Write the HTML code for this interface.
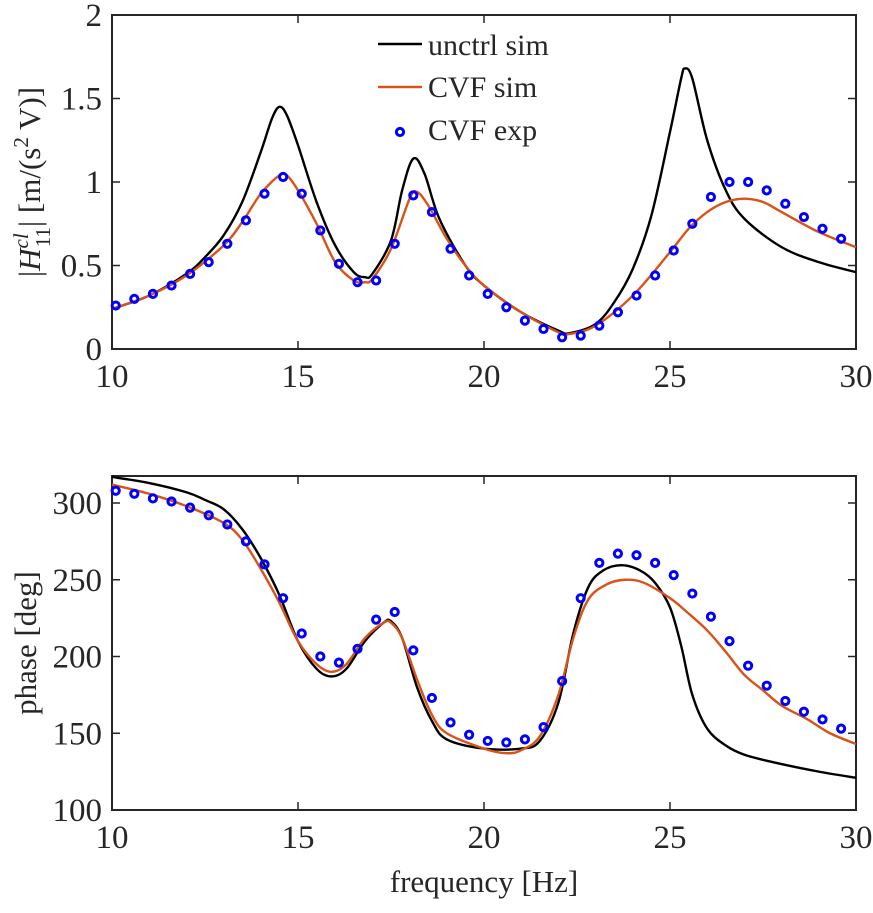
<!DOCTYPE html>
<html><head><meta charset="utf-8"><style>
body{margin:0;background:#fff;}
svg text{font-family:"Liberation Serif",serif;fill:#262626;}
</style></head><body>
<svg id="chart" width="873" height="908" viewBox="0 0 873 908" xmlns="http://www.w3.org/2000/svg"></svg>
<script>
const magUnctrlF=[10,11,12,12.5,13,13.5,14,14.3,14.5,14.7,15,15.5,16,16.5,16.8,17,17.5,17.8,18.1,18.4,18.8,19.5,20,21,22,22.3,23,23.5,24,24.5,25,25.3,25.4,25.6,26,26.5,27,28,29,30];
const magUnctrl=[0.24,0.32,0.45,0.55,0.68,0.88,1.18,1.38,1.45,1.40,1.22,0.88,0.62,0.46,0.43,0.45,0.65,0.95,1.14,1.05,0.78,0.50,0.38,0.22,0.11,0.095,0.15,0.28,0.48,0.80,1.30,1.62,1.68,1.62,1.25,0.95,0.78,0.61,0.52,0.46];
const magCvfF=[10,11,12,13,13.5,14,14.5,14.7,15,15.5,16,16.5,16.8,17,17.5,18,18.2,18.5,19,19.5,20,21,22,22.3,23,24,25,25.5,26,26.5,27,27.5,28,29,30];
const magCvf=[0.24,0.32,0.44,0.62,0.76,0.93,1.04,1.04,0.95,0.75,0.52,0.41,0.40,0.42,0.60,0.90,0.94,0.86,0.66,0.50,0.38,0.22,0.10,0.09,0.14,0.32,0.58,0.72,0.82,0.88,0.90,0.88,0.82,0.70,0.61];
const phUnctrlF=[10,11,12,12.5,13,13.5,14,14.5,15,15.5,15.9,16.3,16.8,17.3,17.5,17.8,18.2,18.6,19,20,21,21.5,22,22.4,22.8,23.2,23.7,24.2,24.6,25,25.3,25.6,26,26.5,27,27.8,29,30];
const phUnctrl=[317,313,307,302,296,283,264,240,210,192,187,192,210,222,223,212,180,158,146,140,140,145,170,215,245,256,259.5,256,248,232,207,175,153,142,136,131,125,121];
const phCvfF=[10,11,12,13,13.5,14,14.5,15,15.5,15.9,16.3,16.8,17.3,17.5,17.8,18.2,18.6,19,20,20.6,21,21.5,22,22.4,22.8,23.3,23.8,24.3,25,25.5,26,26.5,27,27.5,28,28.7,29.3,30];
const phCvf=[312,306,298,287,276,257,235,210,195,190,195,212,222,222,212,185,162,150,140,137,139,148,175,212,237,247,250,248,238,228,217,203,188,178,168,159,150,143];
const expF=[];for(let i=0;i<40;i++)expF.push(10.1+0.5*i);
const expMag=[0.26,0.30,0.33,0.38,0.45,0.52,0.63,0.77,0.93,1.03,0.93,0.71,0.51,0.40,0.41,0.63,0.92,0.82,0.60,0.44,0.33,0.25,0.17,0.12,0.07,0.08,0.14,0.22,0.32,0.44,0.59,0.75,0.91,1.00,1.00,0.95,0.87,0.79,0.72,0.66];
const expPh=[308,306,303,301,297,292,286,275,260,238,215,200,196,205,224,229,204,173,157,149,145,144,146,154,184,238,261,267,266,261,253,241,226,210,194,181,171,164,159,153];
const xTicks=[10,15,20,25,30];
const magTicks=[0,0.5,1,1.5,2];const magTickLabels=["0","0.5","1","1.5","2"];
const phTicks=[100,150,200,250,300];

const NS="http://www.w3.org/2000/svg";
const svg=document.getElementById('chart');
function el(t,a,p){const e=document.createElementNS(NS,t);for(const k in a)e.setAttribute(k,a[k]);(p||svg).appendChild(e);return e;}
const X0=112,X1=856;
const xs=f=>X0+(f-10)/20*(X1-X0);
const ysM=v=>349-v*(349-15)/2;
const ysP=v=>810-(v-100)*1.535;
function smooth(fx,vy,ys){const p=fx.map((f,i)=>[xs(f),ys(vy[i])]);let d="M"+p[0][0]+","+p[0][1];
 for(let i=0;i<p.length-1;i++){const a=p[Math.max(i-1,0)],b=p[i],c=p[i+1],e=p[Math.min(i+2,p.length-1)];
 d+=" C"+(b[0]+(c[0]-a[0])/6)+","+(b[1]+(c[1]-a[1])/6)+" "+(c[0]-(e[0]-b[0])/6)+","+(c[1]-(e[1]-b[1])/6)+" "+c[0]+","+c[1];}return d;}
function axes(top,bot,name,yt,ylab,ys){
 const g=el('g',{});
 
 
 el('rect',{x:X0,y:top,width:X1-X0,height:bot-top,fill:'none',stroke:'#262626','stroke-width':2},g);
 xTicks.forEach(t=>{const x=xs(t);el('line',{x1:x,x2:x,y1:bot,y2:bot-8,stroke:'#262626','stroke-width':1.5},g);el('line',{x1:x,x2:x,y1:top,y2:top+8,stroke:'#262626','stroke-width':1.5},g);
  const tx=el('text',{x:x,y:bot+38,'font-size':33,'text-anchor':'middle'},g);tx.textContent=t;
  
  });
 yt.forEach((t,i)=>{const y=ys(t);el('line',{x1:X0,x2:X0+8,y1:y,y2:y,stroke:'#262626','stroke-width':1.5},g);el('line',{x1:X1,x2:X1-8,y1:y,y2:y,stroke:'#262626','stroke-width':1.5},g);
  const tx=el('text',{x:X0-10,y:y+11,'font-size':33,'text-anchor':'end'},g);tx.textContent=ylab[i];
  
  });
 return g;}
axes(15,349,'magnitude-axes',magTicks,magTickLabels,ysM);
axes(476,810,'phase-axes',phTicks,phTicks.map(String),ysP);
function line(fx,vy,ys,col,name){const p=el('path',{d:smooth(fx,vy,ys),fill:'none',stroke:col,'stroke-width':2.4});
 
 }
function dots(vy,ys,name){expF.forEach((f,i)=>{const c=el('circle',{cx:xs(f),cy:ys(vy[i]),r:3.6,fill:'none',stroke:'#0000ff','stroke-width':3});
 
 });}
line(magUnctrlF,magUnctrl,ysM,'#000','unctrl-sim-magnitude');
line(magCvfF,magCvf,ysM,'#d95319','cvf-sim-magnitude');
dots(expMag,ysM,'cvf-exp-magnitude-point');
line(phUnctrlF,phUnctrl,ysP,'#000','unctrl-sim-phase');
line(phCvfF,phCvf,ysP,'#d95319','cvf-sim-phase');
dots(expPh,ysP,'cvf-exp-phase-point');
</script>
<script>
(function(){const svg=document.getElementById('chart');const NS="http://www.w3.org/2000/svg";
function el(t,a){const e=document.createElementNS(NS,t);for(const k in a)e.setAttribute(k,a[k]);svg.appendChild(e);return e;}
let l=el('line',{x1:378,x2:422,y1:44,y2:44,stroke:'#000','stroke-width':2.4});


l=el('line',{x1:378,x2:422,y1:87,y2:87,stroke:'#d95319','stroke-width':2.4});


l=el('circle',{cx:400,cy:132,r:3.6,fill:'none',stroke:'#0000ff','stroke-width':3});


[["unctrl sim",55],["CVF sim",97],["CVF exp",140]].forEach(a=>{const t=el('text',{x:428,y:a[1],'font-size':30});t.textContent=a[0];
 
 });
let t=el('text',{x:0,y:0,'font-size':31,'text-anchor':'middle',transform:'translate(40,182) rotate(-90)'});
t.innerHTML='|<tspan font-style="italic">H</tspan><tspan font-size="21" dy="-12" font-style="italic">cl</tspan><tspan font-size="21" dx="-14" dy="22">11</tspan><tspan dy="-10">| [m/(s</tspan><tspan font-size="21" dy="-12">2</tspan><tspan dy="12"> V)]</tspan>';


t=el('text',{x:0,y:0,'font-size':31,'text-anchor':'middle',transform:'translate(36,643) rotate(-90)'});
t.textContent='phase [deg]';


t=el('text',{x:484,y:892,'font-size':31,'text-anchor':'middle'});
t.textContent='frequency [Hz]';


})();
</script>
</body></html>
